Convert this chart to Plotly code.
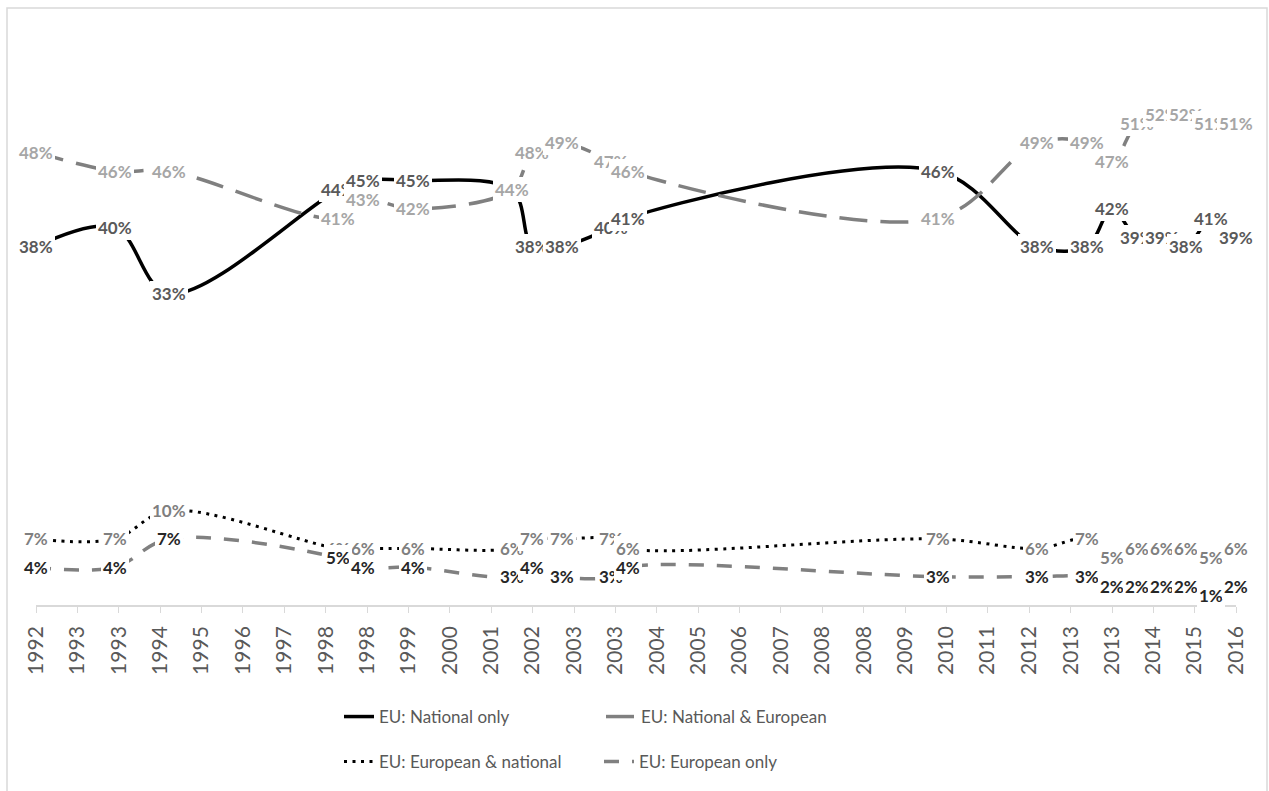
import plotly.graph_objects as go

# Eurobarometer fieldwork waves (first day of the survey month)
survey_dates = [
    "1992-03-01", "1993-10-01", "1994-11-01", "1998-04-01", "1998-10-01",
    "1999-10-01", "2001-10-01", "2002-03-01", "2002-10-01", "2003-10-01",
    "2004-02-01", "2010-05-01", "2012-05-01", "2013-05-01", "2013-11-01",
    "2014-05-01", "2014-11-01", "2015-05-01", "2015-11-01", "2016-05-01",
]

# Share of respondents (%) per identity answer
national_only = [38, 40, 33, 44, 45, 45, 44, 38, 38, 40, 41, 46, 38, 38, 42, 39, 39, 38, 41, 39]
national_and_european = [48, 46, 46, 41, 43, 42, 44, 48, 49, 47, 46, 41, 49, 49, 47, 51, 52, 52, 51, 51]
european_and_national = [7, 7, 10, 6, 6, 6, 6, 7, 7, 7, 6, 7, 6, 7, 5, 6, 6, 6, 5, 6]
european_only = [4, 4, 7, 5, 4, 4, 3, 4, 3, 3, 4, 3, 3, 3, 2, 2, 2, 2, 1, 2]

series_names = [
    "EU: National only",
    "EU: National & European",
    "EU: European & national",
    "EU: European only",
]
series_values = [national_only, national_and_european, european_and_national, european_only]

line_styles = [
    dict(color="#000000", width=3.5, dash="solid"),
    dict(color="#808080", width=3.5, dash="28px,13px"),
    dict(color="#000000", width=3, dash="3px,5.5px"),
    dict(color="#808080", width=3.5, dash="15px,13px"),
]
label_colors = ["#595959", "#a6a6a6", "#7f7f7f", "#262626"]
legend_ids = ["legend", "legend2", "legend3", "legend4"]

FONT = "Lato, 'Open Sans', sans-serif"

fig = go.Figure()
annotations = []
for name, vals, style, lcol, leg in zip(series_names, series_values, line_styles,
                                        label_colors, legend_ids):
    fig.add_trace(go.Scatter(
        x=survey_dates, y=vals, name=name, mode="lines",
        line=dict(shape="spline", smoothing=1, **style),
        legend=leg, showlegend=True, hoverinfo="skip",
    ))
    # value labels with an opaque box, centred on each point
    for d, v in zip(survey_dates, vals):
        annotations.append(dict(
            x=d, y=v, xref="x", yref="y", text=f"<b>{v}%</b>",
            showarrow=False, xanchor="center", yanchor="middle",
            font=dict(family=FONT, size=17, color=lcol),
            bgcolor="white", borderpad=2, borderwidth=0,
        ))

# plot area spans x 36..1236 px and y 39..606 px
PX_L, PX_R, PX_T, PX_B = 36, 1236, 39, 606
W, H = PX_R - PX_L, PX_B - PX_T


def px_x(p):
    return (p - PX_L) / W


def px_y(p):
    return (PX_B - p) / H


legend_common = dict(
    orientation="v", xanchor="left", yanchor="middle", visible=True,
    bgcolor="rgba(0,0,0,0)", borderwidth=0,
    font=dict(family=FONT, size=17, color="#595959"),
)

fig.update_layout(
    width=1269, height=791, showlegend=True,
    margin=dict(l=PX_L, r=1269 - PX_R, t=PX_T, b=791 - PX_B),
    paper_bgcolor="white", plot_bgcolor="white",
    xaxis=dict(
        type="date", range=["1992-03-01", "2016-05-01"],
        tick0="1992-03-01", dtick="M10", tickformat="%Y",
        tickangle=-90, ticks="outside", ticklen=6, tickwidth=1,
        tickcolor="#d9d9d9", showline=True, linecolor="#d9d9d9", linewidth=1.5,
        showgrid=False, zeroline=False, ticklabelstandoff=5,
        tickfont=dict(family=FONT, size=21, color="#595959"),
    ),
    yaxis=dict(range=[0, 60], visible=False, showgrid=False, zeroline=False),
    legend=dict(x=px_x(339), y=px_y(717), **legend_common),
    legend2=dict(x=px_x(601), y=px_y(717), **legend_common),
    legend3=dict(x=px_x(339), y=px_y(762), **legend_common),
    legend4=dict(x=px_x(599), y=px_y(762), **legend_common),
    annotations=annotations,
    shapes=[dict(
        type="rect", xref="paper", yref="paper",
        x0=px_x(7), x1=px_x(1267), y0=px_y(800), y1=px_y(8),
        line=dict(color="#d9d9d9", width=1.5), fillcolor="rgba(0,0,0,0)",
        layer="below",
    )],
)

fig.write_html("out.html")
